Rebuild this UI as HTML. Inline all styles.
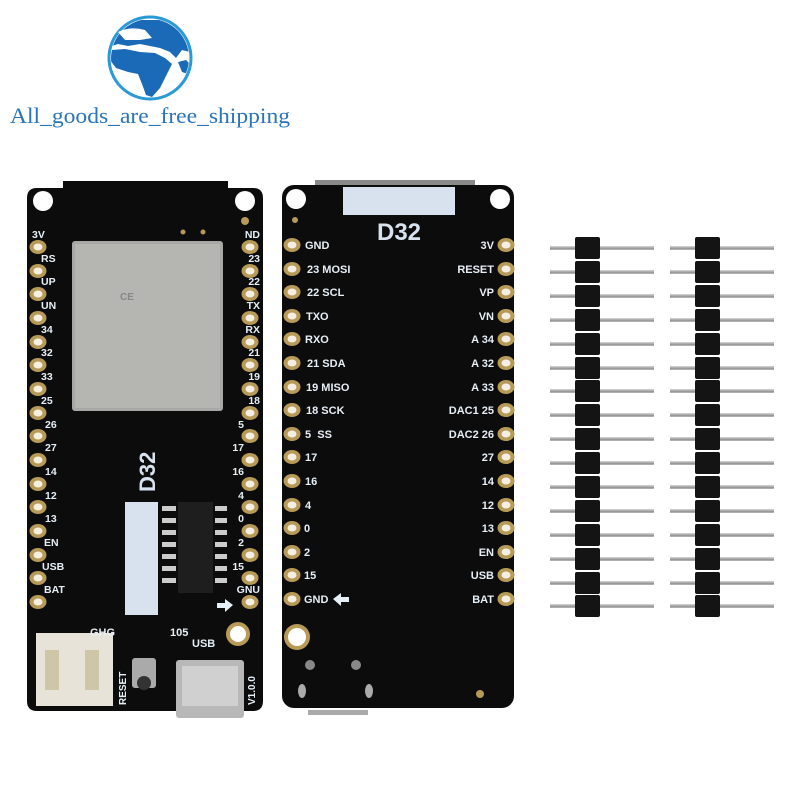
<!DOCTYPE html>
<html><head><meta charset="utf-8"><style>
html,body{margin:0;padding:0;background:#fff;width:800px;height:800px;overflow:hidden}
svg text{font-family:"Liberation Sans",sans-serif;font-weight:bold}
</style></head><body>
<svg width="800" height="800" viewBox="0 0 800 800" xmlns="http://www.w3.org/2000/svg">
<defs>
<g id="pad"><ellipse cx="0" cy="0" rx="8.5" ry="7" fill="#b79a55"/><ellipse cx="0" cy="0" rx="4.5" ry="3.5" fill="#f4efe2"/></g>
<g id="pin"><rect x="-50" y="-1.8" width="104" height="3.6" fill="#9a9a9a"/><rect x="-50" y="-1.8" width="104" height="1.2" fill="#cfcfcf"/><rect x="-25" y="-11" width="25" height="22" rx="2" fill="#141414"/></g>
<clipPath id="gc"><circle cx="150" cy="58" r="39"/></clipPath>
</defs>
<!-- logo -->
<circle cx="150" cy="58" r="41" fill="#fff" stroke="#2a9ad6" stroke-width="3"/>
<g clip-path="url(#gc)" fill="#1b6ab7">
<path d="M112,20 L190,20 L190,52 L182,50 L176,58 L170,52 L160,48 L150,46 L140,44 L128,46 L118,44 L112,46 Z"/>
<path d="M112,50 L125,49 L140,52 L155,53 L165,58 L172,64 L166,76 L160,88 L152,97 L146,95 L142,84 L138,74 L128,72 L116,68 L110,60 Z"/>
<path d="M178,62 L186,60 L190,64 L188,74 L182,72 Z"/>
</g>
<path d="M118,32 Q130,26 145,30 L152,38 L140,40 L125,40 Z" fill="#fff"/>
<text x="150" y="123" font-size="22" fill="#2a74b8" text-anchor="middle" style="font-family:'Liberation Serif',serif;font-weight:normal" textLength="280" lengthAdjust="spacingAndGlyphs">All_goods_are_free_shipping</text>

<!-- board 1 -->
<path d="M27,198 Q27,188 37,188 L63,188 L63,181 L228,181 L228,188 L253,188 Q263,188 263,198 L263,701 Q263,711 253,711 L37,711 Q27,711 27,701 Z" fill="#0c0c0c"/>
<circle cx="43" cy="201" r="10" fill="#fff"/><circle cx="245" cy="201" r="10" fill="#fff"/>
<circle cx="245" cy="221" r="4" fill="#b79a55"/>
<circle cx="183" cy="232" r="2.5" fill="#b79a55"/><circle cx="203" cy="232" r="2.5" fill="#b79a55"/>
<rect x="72" y="241" width="151" height="170" rx="3" fill="#a8a8a6"/>
<rect x="75" y="244" width="145" height="164" fill="#b5b5b2"/>
<text x="120" y="300" font-size="10" fill="#888">CE</text>
<rect x="125" y="502" width="33" height="113" fill="#d8e2ef"/>
<rect x="178" y="502" width="35" height="91" fill="#1e1e1e"/>
<g fill="#ccc"><rect x="162" y="506" width="14" height="5"/><rect x="162" y="518" width="14" height="5"/><rect x="162" y="530" width="14" height="5"/><rect x="162" y="542" width="14" height="5"/><rect x="162" y="554" width="14" height="5"/><rect x="162" y="566" width="14" height="5"/><rect x="162" y="578" width="14" height="5"/>
<rect x="215" y="506" width="12" height="5"/><rect x="215" y="518" width="12" height="5"/><rect x="215" y="530" width="12" height="5"/><rect x="215" y="542" width="12" height="5"/><rect x="215" y="554" width="12" height="5"/><rect x="215" y="566" width="12" height="5"/><rect x="215" y="578" width="12" height="5"/></g>
<text x="0" y="0" font-size="22" fill="#d8e2ef" transform="translate(155,492) rotate(-90)">D32</text>
<rect x="36" y="633" width="77" height="73" fill="#e8e3d8"/><rect x="45" y="650" width="14" height="40" fill="#cfc6a8"/><rect x="85" y="650" width="14" height="40" fill="#cfc6a8"/>
<rect x="132" y="658" width="24" height="30" rx="3" fill="#aaa"/><circle cx="144" cy="683" r="7" fill="#333"/>
<rect x="176" y="660" width="68" height="58" rx="3" fill="#b8b8b8"/><rect x="182" y="666" width="56" height="40" fill="#d0d0d0"/>
<circle cx="238" cy="634" r="12" fill="#b79a55"/><circle cx="238" cy="634" r="8" fill="#fff"/>
<g font-size="11" fill="#e6eef6"><text x="192" y="647">USB</text><text x="170" y="636">105</text><text x="90" y="636">GHG</text>
<text transform="translate(126,705) rotate(-90)" font-size="10">RESET</text><text transform="translate(255,705) rotate(-90)" font-size="10">V1.0.0</text></g>
<path d="M233,605 L225,599 L225,603 L217,603 L217,608 L225,608 L225,612 Z" fill="#e6eef6"/>
<g>
<use href="#pad" x="38" y="247"/><use href="#pad" x="38" y="271"/><use href="#pad" x="38" y="294"/><use href="#pad" x="38" y="318"/><use href="#pad" x="38" y="342"/><use href="#pad" x="38" y="365"/><use href="#pad" x="38" y="389"/><use href="#pad" x="38" y="413"/><use href="#pad" x="38" y="436"/><use href="#pad" x="38" y="460"/><use href="#pad" x="38" y="484"/><use href="#pad" x="38" y="507"/><use href="#pad" x="38" y="531"/><use href="#pad" x="38" y="555"/><use href="#pad" x="38" y="578"/><use href="#pad" x="38" y="602"/>
<use href="#pad" x="250" y="247"/><use href="#pad" x="250" y="271"/><use href="#pad" x="250" y="294"/><use href="#pad" x="250" y="318"/><use href="#pad" x="250" y="342"/><use href="#pad" x="250" y="365"/><use href="#pad" x="250" y="389"/><use href="#pad" x="250" y="413"/><use href="#pad" x="250" y="436"/><use href="#pad" x="250" y="460"/><use href="#pad" x="250" y="484"/><use href="#pad" x="250" y="507"/><use href="#pad" x="250" y="531"/><use href="#pad" x="250" y="555"/><use href="#pad" x="250" y="578"/><use href="#pad" x="250" y="602"/>
</g>
<g font-size="10.5" fill="#e6eef6">
<text x="32" y="238">3V</text><text x="41" y="262">RS</text><text x="41" y="285">UP</text><text x="41" y="309">UN</text><text x="41" y="333">34</text><text x="41" y="356">32</text><text x="41" y="380">33</text><text x="41" y="404">25</text><text x="45" y="428">26</text><text x="45" y="451">27</text><text x="45" y="475">14</text><text x="45" y="499">12</text><text x="45" y="522">13</text><text x="44" y="546">EN</text><text x="42" y="570">USB</text><text x="44" y="593">BAT</text>
<g text-anchor="end"><text x="260" y="238">ND</text><text x="260" y="262">23</text><text x="260" y="285">22</text><text x="260" y="309">TX</text><text x="260" y="333">RX</text><text x="260" y="356">21</text><text x="260" y="380">19</text><text x="260" y="404">18</text><text x="244" y="428">5</text><text x="244" y="451">17</text><text x="244" y="475">16</text><text x="244" y="499">4</text><text x="244" y="522">0</text><text x="244" y="546">2</text><text x="244" y="570">15</text><text x="260" y="593">GNU</text></g>
</g>

<!-- board 2 -->
<rect x="315" y="180" width="160" height="6" fill="#8a8a8a"/>
<rect x="282" y="185" width="232" height="523" rx="12" fill="#0c0c0c"/>
<circle cx="296" cy="199" r="10" fill="#fff"/><circle cx="500" cy="199" r="10" fill="#fff"/>
<circle cx="295" cy="220" r="3" fill="#b79a55"/>
<rect x="343" y="187" width="112" height="28" fill="#d8e2ef"/>
<text x="399" y="240" font-size="24" fill="#d8e2ef" text-anchor="middle">D32</text>
<circle cx="297" cy="637" r="13" fill="#b79a55"/><circle cx="297" cy="637" r="9" fill="#fff"/>
<circle cx="310" cy="665" r="5" fill="#888"/><circle cx="356" cy="665" r="5" fill="#888"/>
<ellipse cx="302" cy="691" rx="4" ry="7" fill="#aaa"/><ellipse cx="369" cy="691" rx="4" ry="7" fill="#aaa"/>
<circle cx="480" cy="694" r="4" fill="#b79a55"/>
<rect x="308" y="710" width="60" height="5" fill="#aaa"/>
<g>
<use href="#pad" x="292" y="245"/><use href="#pad" x="292" y="269"/><use href="#pad" x="292" y="292"/><use href="#pad" x="292" y="316"/><use href="#pad" x="292" y="339"/><use href="#pad" x="292" y="363"/><use href="#pad" x="292" y="387"/><use href="#pad" x="292" y="410"/><use href="#pad" x="292" y="434"/><use href="#pad" x="292" y="457"/><use href="#pad" x="292" y="481"/><use href="#pad" x="292" y="505"/><use href="#pad" x="292" y="528"/><use href="#pad" x="292" y="552"/><use href="#pad" x="292" y="575"/><use href="#pad" x="292" y="599"/>
<use href="#pad" x="506" y="245"/><use href="#pad" x="506" y="269"/><use href="#pad" x="506" y="292"/><use href="#pad" x="506" y="316"/><use href="#pad" x="506" y="339"/><use href="#pad" x="506" y="363"/><use href="#pad" x="506" y="387"/><use href="#pad" x="506" y="410"/><use href="#pad" x="506" y="434"/><use href="#pad" x="506" y="457"/><use href="#pad" x="506" y="481"/><use href="#pad" x="506" y="505"/><use href="#pad" x="506" y="528"/><use href="#pad" x="506" y="552"/><use href="#pad" x="506" y="575"/><use href="#pad" x="506" y="599"/>
</g>
<g font-size="11" fill="#e6eef6">
<text x="305" y="249">GND</text><text x="307" y="273">23 MOSI</text><text x="307" y="296">22 SCL</text><text x="306" y="320">TXO</text><text x="305" y="343">RXO</text><text x="307" y="367">21 SDA</text><text x="306" y="391">19 MISO</text><text x="306" y="414">18 SCK</text><text x="305" y="438">5&#160;&#160;SS</text><text x="305" y="461">17</text><text x="305" y="485">16</text><text x="305" y="509">4</text><text x="304" y="532">0</text><text x="304" y="556">2</text><text x="304" y="579">15</text><text x="304" y="603">GND</text>
<path d="M333,599 L341,593 L341,597 L349,597 L349,602 L341,602 L341,606 Z" fill="#e6eef6"/>
<g text-anchor="end"><text x="494" y="249">3V</text><text x="494" y="273">RESET</text><text x="494" y="296">VP</text><text x="494" y="320">VN</text><text x="494" y="343">A 34</text><text x="494" y="367">A 32</text><text x="494" y="391">A 33</text><text x="494" y="414">DAC1 25</text><text x="494" y="438">DAC2 26</text><text x="494" y="461">27</text><text x="494" y="485">14</text><text x="494" y="509">12</text><text x="494" y="532">13</text><text x="494" y="556">EN</text><text x="494" y="579">USB</text><text x="494" y="603">BAT</text></g>
</g>

<!-- headers -->
<g transform="translate(600,0)">
<use href="#pin" y="248"/><use href="#pin" y="272"/><use href="#pin" y="296"/><use href="#pin" y="320"/><use href="#pin" y="344"/><use href="#pin" y="368"/><use href="#pin" y="391"/><use href="#pin" y="415"/><use href="#pin" y="439"/><use href="#pin" y="463"/><use href="#pin" y="487"/><use href="#pin" y="511"/><use href="#pin" y="535"/><use href="#pin" y="559"/><use href="#pin" y="583"/><use href="#pin" y="606"/>
</g>
<g transform="translate(720,0)">
<use href="#pin" y="248"/><use href="#pin" y="272"/><use href="#pin" y="296"/><use href="#pin" y="320"/><use href="#pin" y="344"/><use href="#pin" y="368"/><use href="#pin" y="391"/><use href="#pin" y="415"/><use href="#pin" y="439"/><use href="#pin" y="463"/><use href="#pin" y="487"/><use href="#pin" y="511"/><use href="#pin" y="535"/><use href="#pin" y="559"/><use href="#pin" y="583"/><use href="#pin" y="606"/>
</g>
</svg>
</body></html>
